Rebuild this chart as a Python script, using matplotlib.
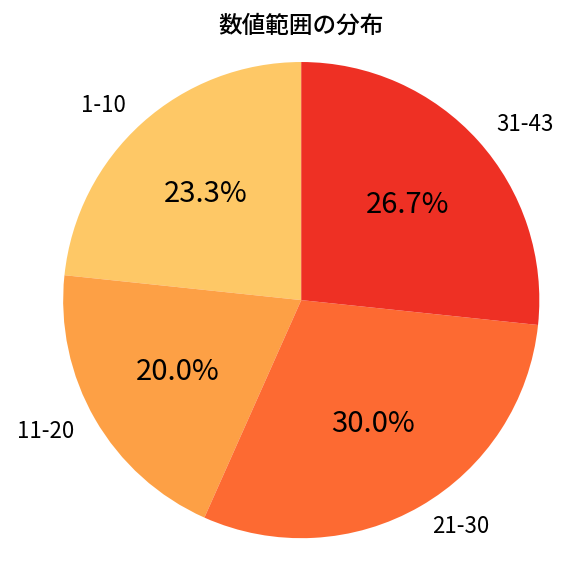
import matplotlib.pyplot as plt

plt.rcParams['font.family'] = ['Noto Sans CJK JP', 'DejaVu Sans']

# data
labels = ['1-10', '11-20', '21-30', '31-43']
counts = [7, 6, 9, 8]
colors = ['#FEC866', '#FDA045', '#FD6A32', '#EE3024']

fig = plt.figure(figsize=(5.76, 5.76), dpi=100)
ax = fig.add_axes([0.027, -0.017, 0.992, 0.992])

wedges, texts, autotexts = ax.pie(counts, labels=labels, colors=colors,
                                  startangle=90, autopct='%1.1f%%',
                                  pctdistance=0.6, labeldistance=1.1,
                                  textprops={'fontsize': 16})
for t in autotexts:
    t.set_fontsize(21)

ax.set_xlim(-1.2, 1.2)
ax.set_ylim(-1.2, 1.2)
ax.set_aspect('equal')

fig.text(0.5226, 0.955, '数値範囲の分布', ha='center', va='center',
         fontsize=17, fontweight='medium')

fig.savefig('out.png', dpi=100)
